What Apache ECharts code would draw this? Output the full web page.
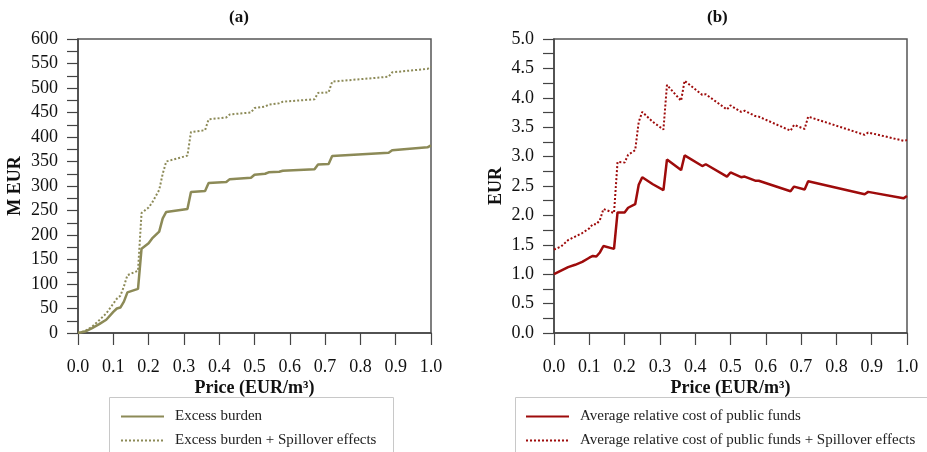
<!DOCTYPE html>
<html>
<head>
<meta charset="utf-8">
<script src="https://cdn.jsdelivr.net/npm/echarts@6/dist/echarts.min.js"></script>
<style>
  html, body { margin: 0; padding: 0; background: #fff; }
  #chart { width: 927px; height: 452px; }
</style>
</head>
<body>
<div id="chart"></div>
<script>
// price points (EUR/m3)
const prices = [0, 0.02, 0.04, 0.06, 0.08, 0.10, 0.11, 0.12, 0.13, 0.14, 0.17, 0.18, 0.20, 0.21, 0.23, 0.24, 0.25, 0.28, 0.31, 0.32,
  0.36, 0.37, 0.42, 0.43, 0.49, 0.50, 0.53, 0.54, 0.57, 0.58, 0.67, 0.68, 0.71, 0.72, 0.88, 0.89, 0.99, 1.0];

// (a) M EUR
const excessBurden = [0, 3, 10, 18, 27, 43, 50, 52, 64, 83, 90, 172, 183, 193, 207, 234, 247, 250, 253, 288,
  290, 306, 308, 314, 317, 323, 325, 328, 329, 331, 334, 344, 345, 361, 368, 373, 379, 383];
const excessSpill = [0, 4, 13, 26, 40, 60, 70, 76, 95, 118, 127, 245, 256, 266, 292, 325, 350, 356, 362, 410,
  414, 436, 440, 446, 450, 459, 462, 466, 469, 472, 477, 490, 491, 513, 523, 532, 539, 543];

// (b) EUR
const avgCost = [1.00, 1.06, 1.12, 1.16, 1.21, 1.28, 1.31, 1.30, 1.37, 1.48, 1.43, 2.05, 2.05, 2.13, 2.19, 2.52, 2.65, 2.53, 2.43, 2.95,
  2.77, 3.02, 2.84, 2.87, 2.66, 2.73, 2.65, 2.66, 2.59, 2.59, 2.41, 2.49, 2.44, 2.58, 2.36, 2.40, 2.29, 2.33];
const avgCostSpill = [1.42, 1.47, 1.58, 1.64, 1.70, 1.78, 1.85, 1.85, 1.92, 2.11, 2.04, 2.91, 2.90, 3.03, 3.11, 3.59, 3.76, 3.59, 3.46, 4.22,
  3.95, 4.29, 4.05, 4.06, 3.80, 3.87, 3.76, 3.78, 3.69, 3.68, 3.44, 3.54, 3.47, 3.68, 3.37, 3.41, 3.27, 3.28];

const FONT = '"Liberation Serif", "Times New Roman", serif';
const OLIVE = '#8c8a57';
const RED = '#9e0b0b';
const AX = '#444';

const pairs = (ys) => prices.map((p, i) => [p, ys[i]]);

function xAxis(gi) {
  return {
    type: 'value', gridIndex: gi, min: 0, max: 1, interval: 0.1,
    name: 'Price (EUR/m³)', nameLocation: 'middle', nameGap: 46, nameMoveOverlap: false,
    nameTextStyle: { fontFamily: FONT, fontSize: 18, fontWeight: 'bold', color: '#111' },
    axisLine: { show: true, lineStyle: { color: AX, width: 1.5 } },
    axisTick: { show: true, inside: false, length: 12, lineStyle: { color: AX, width: 1.2 } },
    axisLabel: { fontFamily: FONT, fontSize: 18, color: '#111', margin: 25, formatter: v => v.toFixed(1) },
    splitLine: { show: false }
  };
}

function yAxis(gi, max, step, name, gap, dec) {
  return {
    type: 'value', gridIndex: gi, min: 0, max: max, interval: step,
    name: name, nameLocation: 'middle', nameGap: gap, nameMoveOverlap: false,
    nameTextStyle: { fontFamily: FONT, fontSize: 18, fontWeight: 'bold', color: '#111' },
    axisLine: { show: true, lineStyle: { color: AX, width: 1.5 } },
    axisTick: { show: true, inside: false, length: 11, lineStyle: { color: AX, width: 1.2 } },
    axisLabel: {
      fontFamily: FONT, fontSize: 18, color: '#111', margin: 20,
      formatter: v => (Math.round(v / step) % 2 === 0 ? v.toFixed(dec) : '')
    },
    splitLine: { show: false }
  };
}

function legend(left, names) {
  return {
    left: left, top: 409, orient: 'vertical', height: 60,
    padding: 0, itemGap: 9, itemWidth: 43, itemHeight: 14,
    itemStyle: { opacity: 0 },
    textStyle: { fontFamily: FONT, fontSize: 15, color: '#222', padding: [0, 0, 0, 6] },
    data: names
  };
}

const chart = echarts.init(document.getElementById('chart'), null, { renderer: 'canvas' });
chart.setOption({
  animation: false,
  backgroundColor: '#fff',
  graphic: [
    { type: 'text', left: 229, top: 9, style: { text: '(a)', font: 'bold 17px ' + FONT, fill: '#111' } },
    { type: 'text', left: 707, top: 9, style: { text: '(b)', font: 'bold 17px ' + FONT, fill: '#111' } },
    { type: 'rect', shape: { x: 109.5, y: 397.5, width: 284, height: 70 }, style: { fill: 'none', stroke: '#c8c8c8', lineWidth: 1 } },
    { type: 'rect', shape: { x: 515.5, y: 397.5, width: 420, height: 70 }, style: { fill: 'none', stroke: '#c8c8c8', lineWidth: 1 } }
  ],
  grid: [
    { left: 78, top: 39, width: 353, height: 294, outerBoundsMode: 'none', show: true, borderColor: '#555', borderWidth: 1.5, backgroundColor: 'transparent' },
    { left: 554, top: 39, width: 353, height: 294, outerBoundsMode: 'none', show: true, borderColor: '#555', borderWidth: 1.5, backgroundColor: 'transparent' }
  ],
  xAxis: [xAxis(0), xAxis(1)],
  yAxis: [yAxis(0, 600, 25, 'M EUR', 54, 0), yAxis(1, 5, 0.25, 'EUR', 49, 1)],
  legend: [
    legend(120, ['Excess burden', 'Excess burden + Spillover effects']),
    legend(525, ['Average relative cost of public funds', 'Average relative cost of public funds + Spillover effects'])
  ],
  series: [
    { name: 'Excess burden', type: 'line', xAxisIndex: 0, yAxisIndex: 0, symbol: 'none', data: pairs(excessBurden),
      lineStyle: { color: OLIVE, width: 2.5 }, itemStyle: { color: OLIVE } },
    { name: 'Excess burden + Spillover effects', type: 'line', xAxisIndex: 0, yAxisIndex: 0, symbol: 'none', data: pairs(excessSpill),
      lineStyle: { color: OLIVE, width: 2, type: [2, 2] }, itemStyle: { color: OLIVE } },
    { name: 'Average relative cost of public funds', type: 'line', xAxisIndex: 1, yAxisIndex: 1, symbol: 'none', data: pairs(avgCost),
      lineStyle: { color: RED, width: 2.5 }, itemStyle: { color: RED } },
    { name: 'Average relative cost of public funds + Spillover effects', type: 'line', xAxisIndex: 1, yAxisIndex: 1, symbol: 'none', data: pairs(avgCostSpill),
      lineStyle: { color: RED, width: 2, type: [2, 2] }, itemStyle: { color: RED } }
  ]
});
</script>
</body>
</html>
